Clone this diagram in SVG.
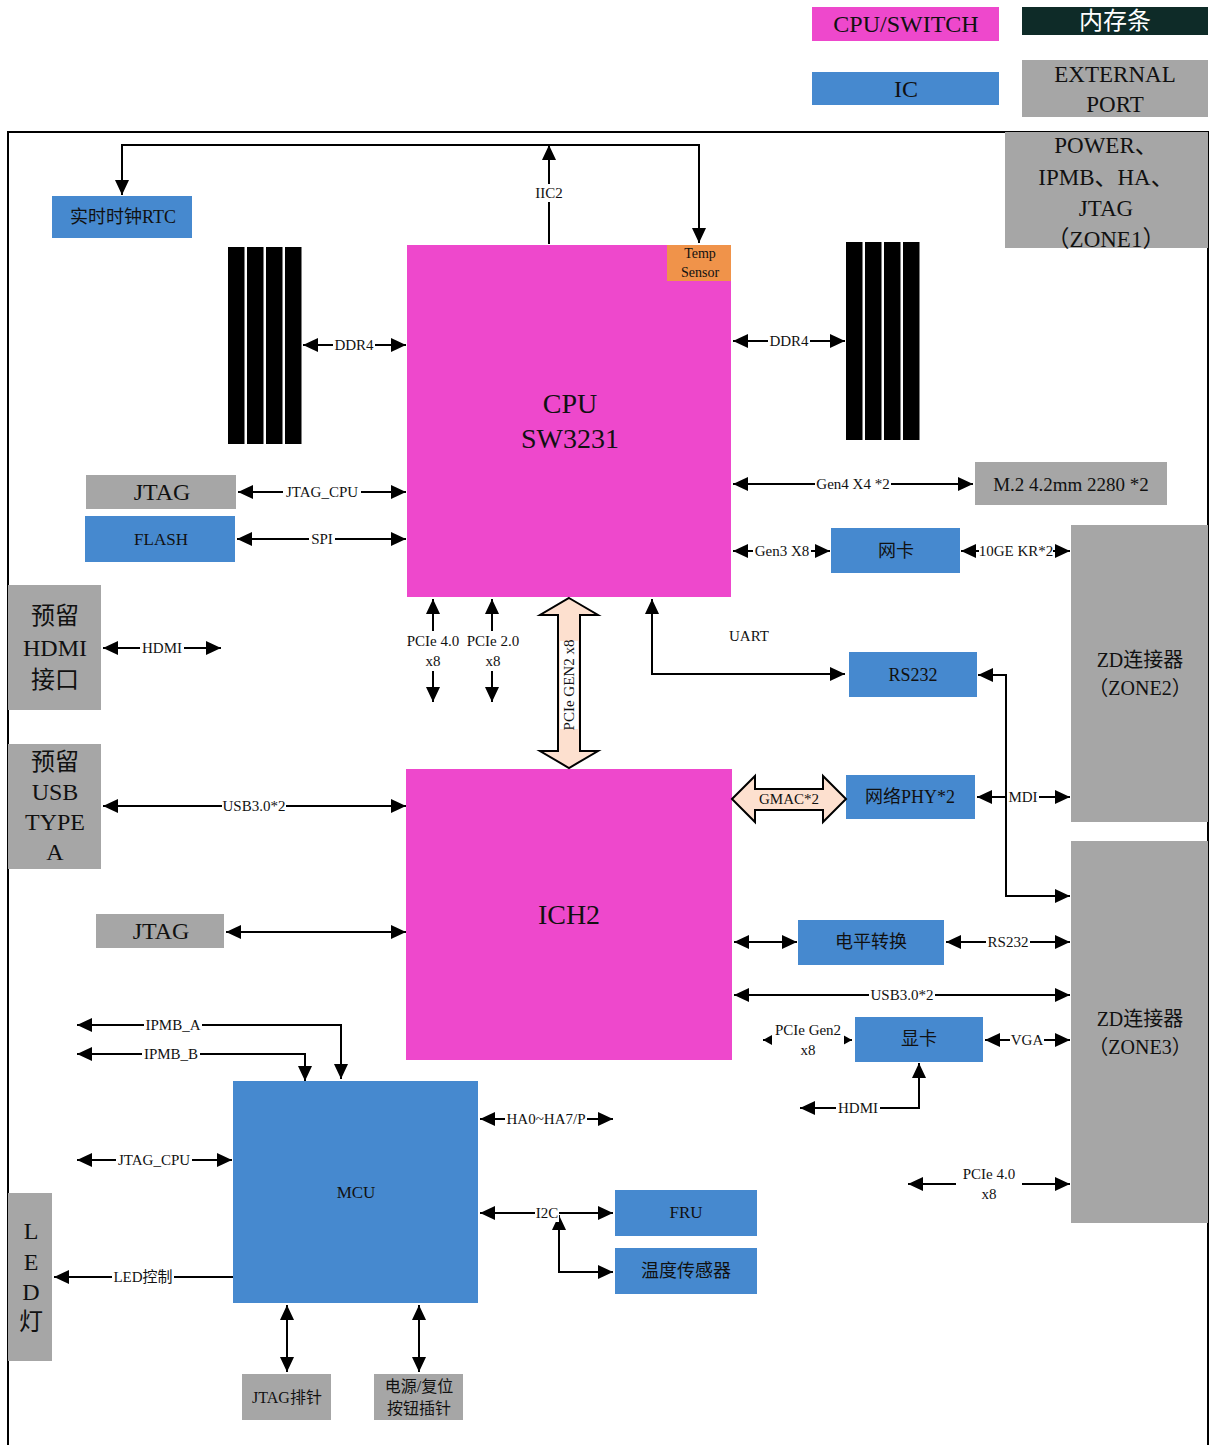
<svg xmlns="http://www.w3.org/2000/svg" width="1210" height="1445" viewBox="0 0 1210 1445">
<defs>
<marker id="ah" markerUnits="userSpaceOnUse" markerWidth="16" markerHeight="14" refX="15" refY="7" orient="auto-start-reverse"><path d="M0,0 L15,7 L0,14 Z" fill="#000"/></marker>
<marker id="sm" markerUnits="userSpaceOnUse" markerWidth="10" markerHeight="12" refX="9" refY="6" orient="auto-start-reverse"><path d="M0,1 L9,6 L0,11 Z" fill="#000"/></marker>
</defs>
<style>
text{font-family:"Liberation Serif","Noto Sans CJK SC",serif;text-anchor:middle;dominant-baseline:central;fill:#111}
.pink{fill:#ee48cc}
.blue{fill:#4689cf}
.gray{fill:#a6a6a6}
.c line,.c polyline{stroke:#000;stroke-width:2;fill:none}
.b{marker-start:url(#ah);marker-end:url(#ah)}
.e{marker-end:url(#ah)}
.lb{font-size:15px}
.bg rect{fill:#fff}
.t18{font-size:18px}
.t24{font-size:24px}
</style>
<rect id="frame" x="8" y="132" width="1200" height="1320" fill="none" stroke="#000" stroke-width="2"/>
<g id="legend">
<rect x="812" y="7" width="187" height="34" class="pink"/><text x="906" y="24" class="t24">CPU/SWITCH</text>
<rect x="1022" y="7" width="186" height="28" fill="#0e2b28"/><text x="1115" y="21" class="t24" style="fill:#fff">内存条</text>
<rect x="812" y="72" width="187" height="33" class="blue"/><text x="906" y="89" class="t24">IC</text>
<rect x="1022" y="60" width="186" height="57" class="gray"/><text x="1115" y="74" style="font-size:23px">EXTERNAL</text><text x="1115" y="104" style="font-size:23px">PORT</text>
</g>
<g id="zone1"><rect x="1005" y="132" width="203" height="116" class="gray"/>
<text x="1106" y="145" style="font-size:23px">POWER、</text><text x="1106" y="177" style="font-size:23px">IPMB、HA、</text><text x="1106" y="208" style="font-size:23px">JTAG</text><text x="1106" y="239" style="font-size:23px">（ZONE1）</text></g>
<g id="rtc"><rect x="52" y="196" width="140" height="42" class="blue"/><text x="123" y="217" class="t18">实时时钟RTC</text></g>
<g id="cpu"><rect x="407" y="245" width="324" height="352" class="pink"/><text x="570" y="403" style="font-size:28px">CPU</text><text x="570" y="438" style="font-size:28px">SW3231</text></g>
<g id="temp"><rect x="667" y="245" width="64" height="36" fill="#f0934a"/><text x="700" y="253" style="font-size:14px">Temp</text><text x="700" y="272" style="font-size:14px">Sensor</text></g>
<g id="dimm-left" fill="#000"><rect x="228" y="247" width="16.5" height="197"/><rect x="247" y="247" width="16.5" height="197"/><rect x="266" y="247" width="16.5" height="197"/><rect x="285" y="247" width="16.5" height="197"/></g>
<g id="dimm-right" fill="#000"><rect x="846" y="242" width="16.5" height="198"/><rect x="865" y="242" width="16.5" height="198"/><rect x="884" y="242" width="16.5" height="198"/><rect x="903" y="242" width="16.5" height="198"/></g>
<g id="jtag1"><rect x="86" y="475" width="150" height="34" class="gray"/><text x="162" y="492" class="t24">JTAG</text></g>
<g id="flash"><rect x="85" y="516" width="150" height="46" class="blue"/><text x="161" y="539" style="font-size:17px">FLASH</text></g>
<g id="m2"><rect x="975" y="462" width="192" height="43" class="gray"/><text x="1071" y="484" style="font-size:19px">M.2 4.2mm  2280 *2</text></g>
<g id="nic"><rect x="831" y="528" width="129" height="45" class="blue"/><text x="896" y="551" class="t18">网卡</text></g>
<g id="zone2"><rect x="1071" y="525" width="137" height="297" class="gray"/><text x="1140" y="660" style="font-size:20px">ZD连接器</text><text x="1140" y="688" style="font-size:20px">（ZONE2）</text></g>
<g id="zone3"><rect x="1071" y="841" width="137" height="382" class="gray"/><text x="1140" y="1019" style="font-size:20px">ZD连接器</text><text x="1140" y="1047" style="font-size:20px">（ZONE3）</text></g>
<g id="hdmi-port"><rect x="8" y="585" width="93" height="125" class="gray"/><text x="55" y="616" class="t24">预留</text><text x="55" y="648" class="t24">HDMI</text><text x="55" y="680" class="t24">接口</text></g>
<g id="usb-port"><rect x="8" y="744" width="93" height="125" class="gray"/><text x="55" y="762" class="t24">预留</text><text x="55" y="792" class="t24">USB</text><text x="55" y="822" class="t24">TYPE</text><text x="55" y="852" class="t24">A</text></g>
<g id="rs232"><rect x="849" y="652" width="128" height="45" class="blue"/><text x="913" y="675" class="t18">RS232</text></g>
<g id="ich2"><rect x="406" y="769" width="326" height="291" class="pink"/><text x="569" y="914" style="font-size:28px">ICH2</text></g>
<g id="phy"><rect x="846" y="775" width="129" height="44" class="blue"/><text x="910" y="797" class="t18">网络PHY*2</text></g>
<g id="jtag2"><rect x="96" y="914" width="128" height="34" class="gray"/><text x="161" y="931" class="t24">JTAG</text></g>
<g id="level"><rect x="798" y="920" width="146" height="45" class="blue"/><text x="871" y="942" class="t18">电平转换</text></g>
<g id="gpu"><rect x="855" y="1017" width="128" height="45" class="blue"/><text x="919" y="1039" class="t18">显卡</text></g>
<g id="mcu"><rect x="233" y="1081" width="245" height="222" class="blue"/><text x="356" y="1192" style="font-size:17px">MCU</text></g>
<g id="fru"><rect x="615" y="1190" width="142" height="46" class="blue"/><text x="686" y="1212" style="font-size:17px">FRU</text></g>
<g id="tsensor"><rect x="615" y="1248" width="142" height="46" class="blue"/><text x="686" y="1271" class="t18">温度传感器</text></g>
<g id="led"><rect x="8" y="1193" width="44" height="168" class="gray"/><text x="31" y="1231" class="t24">L</text><text x="31" y="1262" class="t24">E</text><text x="31" y="1292" class="t24">D</text><text x="31" y="1322" class="t24">灯</text></g>
<g id="jtagpin"><rect x="242" y="1374" width="89" height="46" class="gray"/><text x="287" y="1397" style="font-size:16px">JTAG排针</text></g>
<g id="pwrpin"><rect x="374" y="1374" width="89" height="46" class="gray"/><text x="419" y="1386" style="font-size:16px">电源/复位</text><text x="419" y="1408" style="font-size:16px">按钮插针</text></g>
<g id="connectors" class="c">
<polyline class="b" points="122,195 122,145 699,145 699,243"/>
<line class="e" x1="549" y1="244" x2="549" y2="145"/>
<line class="b" x1="303" y1="345" x2="406" y2="345"/>
<line class="b" x1="733" y1="341" x2="845" y2="341"/>
<line class="b" x1="238" y1="492" x2="406" y2="492"/>
<line class="b" x1="237" y1="539" x2="406" y2="539"/>
<line class="b" x1="733" y1="484" x2="973" y2="484"/>
<line class="b" x1="733" y1="551" x2="830" y2="551"/>
<line class="b" x1="961" y1="551" x2="1070" y2="551"/>
<line class="b" x1="103" y1="648" x2="221" y2="648"/>
<line class="e" x1="433" y1="640" x2="433" y2="599"/>
<line class="e" x1="433" y1="668" x2="433" y2="702"/>
<line class="e" x1="492" y1="640" x2="492" y2="599"/>
<line class="e" x1="492" y1="668" x2="492" y2="702"/>
<path d="M569,598 L598,615 L580,615 L580,751 L598,751 L569,768 L540,751 L558,751 L558,615 L540,615 Z" fill="#fde0cf" stroke="#000" stroke-width="2"/>
<polyline class="b" points="652,599 652,674 845,674"/>
<polyline class="b" points="978,675 1006,675 1006,896 1070,896"/>
<line class="b" x1="103" y1="806" x2="406" y2="806"/>
<path d="M732,799 L755,776 L755,789 L823,789 L823,776 L846,799 L823,822 L823,810 L755,810 L755,822 Z" fill="#fde0cf" stroke="#000" stroke-width="2"/>
<line class="b" x1="977" y1="797" x2="1070" y2="797"/>
<line class="b" x1="226" y1="932" x2="406" y2="932"/>
<line class="b" x1="734" y1="942" x2="797" y2="942"/>
<line class="b" x1="946" y1="942" x2="1070" y2="942"/>
<line class="b" x1="734" y1="995" x2="1070" y2="995"/>
<line x1="763" y1="1040" x2="852" y2="1040" style="marker-start:url(#sm);marker-end:url(#sm)"/>
<line class="b" x1="985" y1="1040" x2="1070" y2="1040"/>
<polyline class="b" points="919,1063 919,1108 800,1108"/>
<line class="b" x1="908" y1="1184" x2="1070" y2="1184"/>
<polyline class="b" points="77,1025 341,1025 341,1079"/>
<polyline class="b" points="77,1054 305,1054 305,1081"/>
<line class="b" x1="77" y1="1160" x2="232" y2="1160"/>
<line class="b" x1="480" y1="1119" x2="613" y2="1119"/>
<line class="b" x1="480" y1="1213" x2="613" y2="1213"/>
<polyline class="b" points="559,1215 559,1272 613,1272"/>
<line class="e" x1="233" y1="1277" x2="54" y2="1277"/>
<line class="b" x1="287" y1="1305" x2="287" y2="1372"/>
<line class="b" x1="419" y1="1305" x2="419" y2="1372"/>
</g>
<g id="label-bg" class="bg">
<rect x="533" y="184" width="32" height="18"/>
<rect x="333" y="336" width="42" height="18"/>
<rect x="768" y="332" width="42" height="18"/>
<rect x="283" y="483" width="78" height="18"/>
<rect x="309" y="530" width="26" height="18"/>
<rect x="815" y="475" width="76" height="18"/>
<rect x="753" y="542" width="58" height="18"/>
<rect x="979" y="542" width="74" height="18"/>
<rect x="140" y="639" width="44" height="18"/>
<rect x="405" y="631" width="56" height="40"/>
<rect x="465" y="631" width="56" height="40"/>
<rect x="560" y="641" width="18" height="88"/>
<rect x="222" y="797" width="64" height="18"/>
<rect x="1007" y="788" width="32" height="18"/>
<rect x="986" y="933" width="44" height="18"/>
<rect x="869" y="986" width="66" height="18"/>
<rect x="772" y="1021" width="72" height="40"/>
<rect x="1010" y="1031" width="34" height="18"/>
<rect x="836" y="1099" width="44" height="18"/>
<rect x="956" y="1165" width="66" height="40"/>
<rect x="144" y="1016" width="58" height="18"/>
<rect x="142" y="1045" width="58" height="18"/>
<rect x="116" y="1151" width="76" height="18"/>
<rect x="505" y="1110" width="82" height="18"/>
<rect x="535" y="1204" width="24" height="18"/>
<rect x="112" y="1268" width="62" height="18"/>
</g>
<g id="labels">
<text x="549" y="193" class="lb">IIC2</text>
<text x="354" y="345" class="lb">DDR4</text>
<text x="789" y="341" class="lb">DDR4</text>
<text x="322" y="492" class="lb">JTAG_CPU</text>
<text x="322" y="539" class="lb">SPI</text>
<text x="853" y="484" class="lb">Gen4 X4 *2</text>
<text x="782" y="551" class="lb">Gen3 X8</text>
<text x="1016" y="551" class="lb">10GE KR*2</text>
<text x="162" y="648" class="lb">HDMI</text>
<text x="433" y="641" class="lb">PCIe 4.0</text><text x="433" y="661" class="lb">x8</text>
<text x="493" y="641" class="lb">PCIe 2.0</text><text x="493" y="661" class="lb">x8</text>
<text x="569" y="685" class="lb" transform="rotate(-90 569 685)">PCIe GEN2 x8</text>
<text x="749" y="636" style="font-size:15px">UART</text>
<text x="254" y="806" class="lb">USB3.0*2</text>
<text x="789" y="799" style="font-size:15px">GMAC*2</text>
<text x="1023" y="797" class="lb">MDI</text>
<text x="1008" y="942" class="lb">RS232</text>
<text x="902" y="995" class="lb">USB3.0*2</text>
<text x="808" y="1030" class="lb">PCIe Gen2</text><text x="808" y="1050" class="lb">x8</text>
<text x="1027" y="1040" class="lb">VGA</text>
<text x="858" y="1108" class="lb">HDMI</text>
<text x="989" y="1174" class="lb">PCIe 4.0</text><text x="989" y="1194" class="lb">x8</text>
<text x="173" y="1025" class="lb">IPMB_A</text>
<text x="171" y="1054" class="lb">IPMB_B</text>
<text x="154" y="1160" class="lb">JTAG_CPU</text>
<text x="546" y="1119" class="lb">HA0~HA7/P</text>
<text x="547" y="1213" class="lb">I2C</text>
<text x="143" y="1277" class="lb">LED控制</text>
</g>
</svg>
